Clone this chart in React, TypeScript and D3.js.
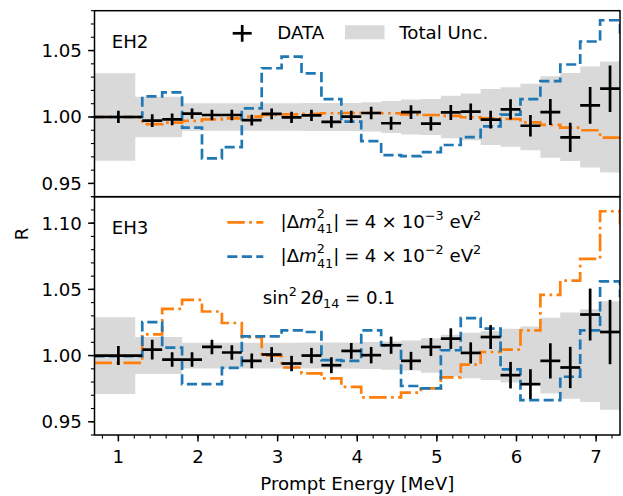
import * as d3 from 'd3';

// bin edges [MeV]: first wide bin, 0.25 MeV bins up to 7.3, last wide bin
const binEdges = [0.7, 1.3, 1.55, 1.8, 2.05, 2.3, 2.55, 2.8, 3.05, 3.3, 3.55, 3.8, 4.05, 4.3,
  4.55, 4.8, 5.05, 5.3, 5.55, 5.8, 6.05, 6.3, 6.55, 6.8, 7.05, 7.3, 12.0];

// EH2
const eh2Ratio = [1.000, 0.9972, 0.9982, 1.0025, 1.0015, 1.0015, 0.9976, 1.0023, 0.9997, 1.0012,
  0.9963, 1.0002, 1.0030, 0.9953, 1.0037, 0.9950, 1.0034, 1.0040, 0.9980, 1.0058,
  0.9934, 1.0037, 0.9846, 1.0088, 1.0213];
const eh2Err = [0.0046, 0.0048, 0.0045, 0.0038, 0.0040, 0.0040, 0.0040, 0.0040, 0.0042, 0.0042,
  0.0044, 0.0045, 0.0047, 0.0049, 0.0052, 0.0052, 0.0057, 0.0062, 0.0066, 0.0076,
  0.0081, 0.0098, 0.0110, 0.0138, 0.0175];
const eh2Unc = [0.033, 0.0153, 0.0153, 0.0103, 0.0103, 0.0103, 0.0103, 0.0103, 0.0103, 0.0105,
  0.0105, 0.0106, 0.0110, 0.0120, 0.0132, 0.0135, 0.0160, 0.0176, 0.0210, 0.0224,
  0.0250, 0.0307, 0.0332, 0.0380, 0.0417];
const eh2Dm3 = [1.000, 0.9947, 0.9957, 0.9970, 0.9982, 0.9990, 1.0002, 1.0015, 1.0020, 1.0023,
  1.0028, 1.0030, 1.0030, 1.0028, 1.0020, 1.0015, 1.0008, 0.9998, 0.9990, 0.9985,
  0.9960, 0.9940, 0.9920, 0.9900, 0.9844, 0.9830];
const eh2Dm2 = [1.000, 1.0155, 1.0185, 0.9920, 0.9688, 0.9773, 1.0065, 1.0367, 1.0455, 1.0328,
  1.0135, 0.9965, 0.9818, 0.9713, 0.9705, 0.9736, 0.9789, 0.9849, 0.9930, 1.0018,
  1.0135, 1.0270, 1.0395, 1.0568, 1.0728, 1.0620];

// EH3
const eh3Ratio = [1.000, 1.0045, 0.9970, 0.9970, 1.0065, 1.0023, 0.9960, 1.0008, 0.9940, 1.0000,
  0.9927, 1.0035, 1.0003, 1.0078, 0.9960, 1.0065, 1.0128, 1.0020, 1.0140, 0.9852,
  0.9784, 0.9960, 0.9910, 1.0310, 1.0178];
const eh3Err = [0.0072, 0.0075, 0.0055, 0.0055, 0.0055, 0.0055, 0.0055, 0.0056, 0.0058, 0.0058,
  0.0060, 0.0060, 0.0062, 0.0065, 0.0068, 0.0068, 0.0078, 0.0080, 0.0090, 0.0100,
  0.0113, 0.0133, 0.0156, 0.0196, 0.0243];
const eh3Unc = [0.029, 0.0140, 0.0140, 0.0097, 0.0097, 0.0097, 0.0097, 0.0097, 0.0097, 0.0098,
  0.0098, 0.0099, 0.0102, 0.0107, 0.0113, 0.0130, 0.0158, 0.0172, 0.0185, 0.0203,
  0.0220, 0.0286, 0.0326, 0.0350, 0.0410];
const eh3Dm3 = [0.9945, 1.0160, 1.0353, 1.0420, 1.0333, 1.0246, 1.0140, 1.0000, 0.9910, 0.9865,
  0.9827, 0.9764, 0.9684, 0.9684, 0.9720, 0.9752, 0.9835, 0.9932, 1.0027, 1.0045,
  1.0190, 1.0459, 1.0566, 1.0730, 1.1090, 1.1000];
const eh3Dm2 = [0.9995, 1.0253, 1.0060, 0.9785, 0.9785, 0.9907, 1.0145, 1.0145, 1.0190, 1.0178,
  0.9965, 0.9960, 1.0190, 1.0078, 0.9770, 0.9752, 1.0040, 1.0283, 1.0203, 0.9895,
  0.9664, 0.9664, 0.9840, 1.0190, 1.0560, 1.0450];

const xTicks = [1, 2, 3, 4, 5, 6, 7];
const eh2YTicks = [0.95, 1.0, 1.05];
const eh3YTicks = [0.95, 1.0, 1.05, 1.1];

const W = 623;
const H = 496;
const left = 94.5;
const right = 620;
const top = 10.7;
const split = 196.7;
const bottom = 435;

const FONT = '"DejaVu Sans", sans-serif';
const FS = 18.2;
const SUB = FS * 0.7;
const BLUE = '#1f77b4';
const ORANGE = '#ff7f0e';
const GREY = '#d9d9d9';
const LW = 2.7;

const x = d3.scaleLinear().domain([0.7, 7.3]).range([left, right]);

interface PanelProps {
  id: string;
  y0: number;
  y1: number;
  domain: [number, number];
  ratio: number[];
  err: number[];
  unc: number[];
  dm3: number[];
  dm2: number[];
  yTicks: number[];
  label: string;
  labelY: number;
}

function Panel({ id, y0, y1, domain, ratio, err, unc, dm3, dm2, yTicks, label, labelY }: PanelProps) {
  const y = d3.scaleLinear().domain(domain).range([y1, y0]);
  const centers = ratio.map((_, i) => (binEdges[i] + binEdges[i + 1]) / 2);

  const bandPts = [
    { e: binEdges[0], u: unc[0] },
    ...centers.map((c, i) => ({ e: c, u: unc[i] })),
    { e: binEdges[ratio.length], u: unc[unc.length - 1] },
  ];
  const band = d3
    .area<{ e: number; u: number }>()
    .x((d) => x(d.e))
    .y0((d) => y(1 - d.u))
    .y1((d) => y(1 + d.u))
    .curve(d3.curveStep);

  const stairs = (vals: number[]) =>
    d3
      .line<number>()
      .x((_, i) => x(binEdges[i]))
      .y((_, i) => y(vals[Math.min(i, vals.length - 1)]))
      .curve(d3.curveStepAfter)(binEdges.slice(0, vals.length + 1));

  const minor = y.ticks(Math.round((domain[1] - domain[0]) * 100));

  return (
    <g>
      <defs>
        <clipPath id={id}>
          <rect x={left} y={y0} width={right - left} height={y1 - y0} />
        </clipPath>
      </defs>
      <g clipPath={`url(#${id})`}>
        <path d={band(bandPts) || ''} fill={GREY} />
        <path d={stairs(dm3) || ''} fill="none" stroke={ORANGE} strokeWidth={LW} strokeDasharray="17.5,4.4,2.7,4.4" />
        <path d={stairs(dm2) || ''} fill="none" stroke={BLUE} strokeWidth={LW} strokeDasharray="10.1,4.4" />
        {ratio.map((r, i) => (
          <g key={i} stroke="#000" strokeWidth={LW}>
            <line x1={x(binEdges[i])} x2={x(binEdges[i + 1])} y1={y(r)} y2={y(r)} />
            <line x1={x(centers[i])} x2={x(centers[i])} y1={y(r - err[i])} y2={y(r + err[i])} />
          </g>
        ))}
      </g>
      <rect x={left} y={y0} width={right - left} height={y1 - y0} fill="none" stroke="#000" strokeWidth={1.5} />
      {minor.map((t) => (
        <line key={t} x1={left - 3.6} x2={left} y1={y(t)} y2={y(t)} stroke="#000" strokeWidth={1.1} />
      ))}
      {yTicks.map((t) => (
        <g key={t}>
          <line x1={left - 6.4} x2={left} y1={y(t)} y2={y(t)} stroke="#000" strokeWidth={1.5} />
          <text x={left - 12.6} y={y(t) + 6.5} textAnchor="end" fontSize={FS} fontFamily={FONT}>
            {d3.format('.2f')(t)}
          </text>
        </g>
      ))}
      <text x={111.7} y={labelY} fontSize={FS} fontFamily={FONT}>
        {label}
      </text>
    </g>
  );
}

// |Δm²₄₁| = 4 × 10⁻ⁿ eV², with the ² and ₄₁ stacked as mathtext does
function DmLabel({ tx, ty, exp }: { tx: number; ty: number; exp: string }) {
  const gap = 5.1;
  return (
    <text x={tx} y={ty} fontSize={FS} fontFamily={FONT} style={{ whiteSpace: 'pre' }}>
      <tspan>|Δ</tspan>
      <tspan fontStyle="italic">m</tspan>
      <tspan fontSize={SUB} dy={-9.5}>2</tspan>
      <tspan fontSize={SUB} dx={-8} dy={15}>41</tspan>
      <tspan dy={-5.5}>|</tspan>
      <tspan dx={gap}>=</tspan>
      <tspan dx={gap}>4</tspan>
      <tspan dx={gap}>×</tspan>
      <tspan dx={gap}>10</tspan>
      <tspan fontSize={SUB} dy={-8}>{'−' + exp}</tspan>
      <tspan dy={8}> eV</tspan>
      <tspan fontSize={SUB} dy={-8}>2</tspan>
    </text>
  );
}

export default function App() {
  const xMinor = x.ticks(33);
  return (
    <svg width={W} height={H} style={{ position: 'absolute', left: 0, top: 0, background: '#fff' }}>
      <rect width={W} height={H} fill="#fff" />
      <Panel
        id="clip-eh2"
        y0={top}
        y1={split}
        domain={[0.94, 1.08]}
        ratio={eh2Ratio}
        err={eh2Err}
        unc={eh2Unc}
        dm3={eh2Dm3}
        dm2={eh2Dm2}
        yTicks={eh2YTicks}
        label="EH2"
        labelY={47.5}
      />
      <Panel
        id="clip-eh3"
        y0={split}
        y1={bottom}
        domain={[0.94, 1.12]}
        ratio={eh3Ratio}
        err={eh3Err}
        unc={eh3Unc}
        dm3={eh3Dm3}
        dm2={eh3Dm2}
        yTicks={eh3YTicks}
        label="EH3"
        labelY={234}
      />

      {/* x axis */}
      {xMinor.map((t) => (
        <line key={t} x1={x(t)} x2={x(t)} y1={bottom} y2={bottom + 3.6} stroke="#000" strokeWidth={1.1} />
      ))}
      {xTicks.map((t) => (
        <g key={t}>
          <line x1={x(t)} x2={x(t)} y1={bottom} y2={bottom + 6.4} stroke="#000" strokeWidth={1.5} />
          <text x={x(t)} y={463} textAnchor="middle" fontSize={FS} fontFamily={FONT}>
            {t}
          </text>
        </g>
      ))}
      <text x={(left + right) / 2} y={489.5} textAnchor="middle" fontSize={FS} fontFamily={FONT}>
        Prompt Energy [MeV]
      </text>
      <text transform="translate(28.3,234) rotate(-90)" textAnchor="middle" fontSize={FS} fontFamily={FONT}>
        R
      </text>

      {/* legend EH2 */}
      <g stroke="#000" strokeWidth={LW}>
        <line x1={232.7} x2={251.7} y1={33.3} y2={33.3} />
        <line x1={242.2} x2={242.2} y1={25} y2={41.7} />
      </g>
      <text x={277.3} y={39.3} fontSize={FS} fontFamily={FONT}>
        DATA
      </text>
      <rect x={345} y={25.3} width={39.5} height={14} fill={GREY} />
      <text x={399.3} y={39.3} fontSize={FS} fontFamily={FONT}>
        Total Unc.
      </text>

      {/* legend EH3 */}
      <line x1={227.3} x2={263.3} y1={222.3} y2={222.3} stroke={ORANGE} strokeWidth={LW} strokeDasharray="17.5,4.4,2.7,4.4" />
      <DmLabel tx={280.5} ty={227.8} exp="3" />
      <line x1={227.3} x2={263.3} y1={256.7} y2={256.7} stroke={BLUE} strokeWidth={LW} strokeDasharray="10.1,4.4" />
      <DmLabel tx={280.5} ty={262.2} exp="2" />
      <text x={262.7} y={304} fontSize={FS} fontFamily={FONT} style={{ whiteSpace: 'pre' }}>
        <tspan>sin</tspan>
        <tspan fontSize={SUB} dy={-8}>2</tspan>
        <tspan dy={8} dx={3.5}>2</tspan>
        <tspan fontStyle="italic">θ</tspan>
        <tspan fontSize={SUB} dy={4}>14</tspan>
        <tspan dy={-4}> = 0.1</tspan>
      </text>
    </svg>
  );
}
